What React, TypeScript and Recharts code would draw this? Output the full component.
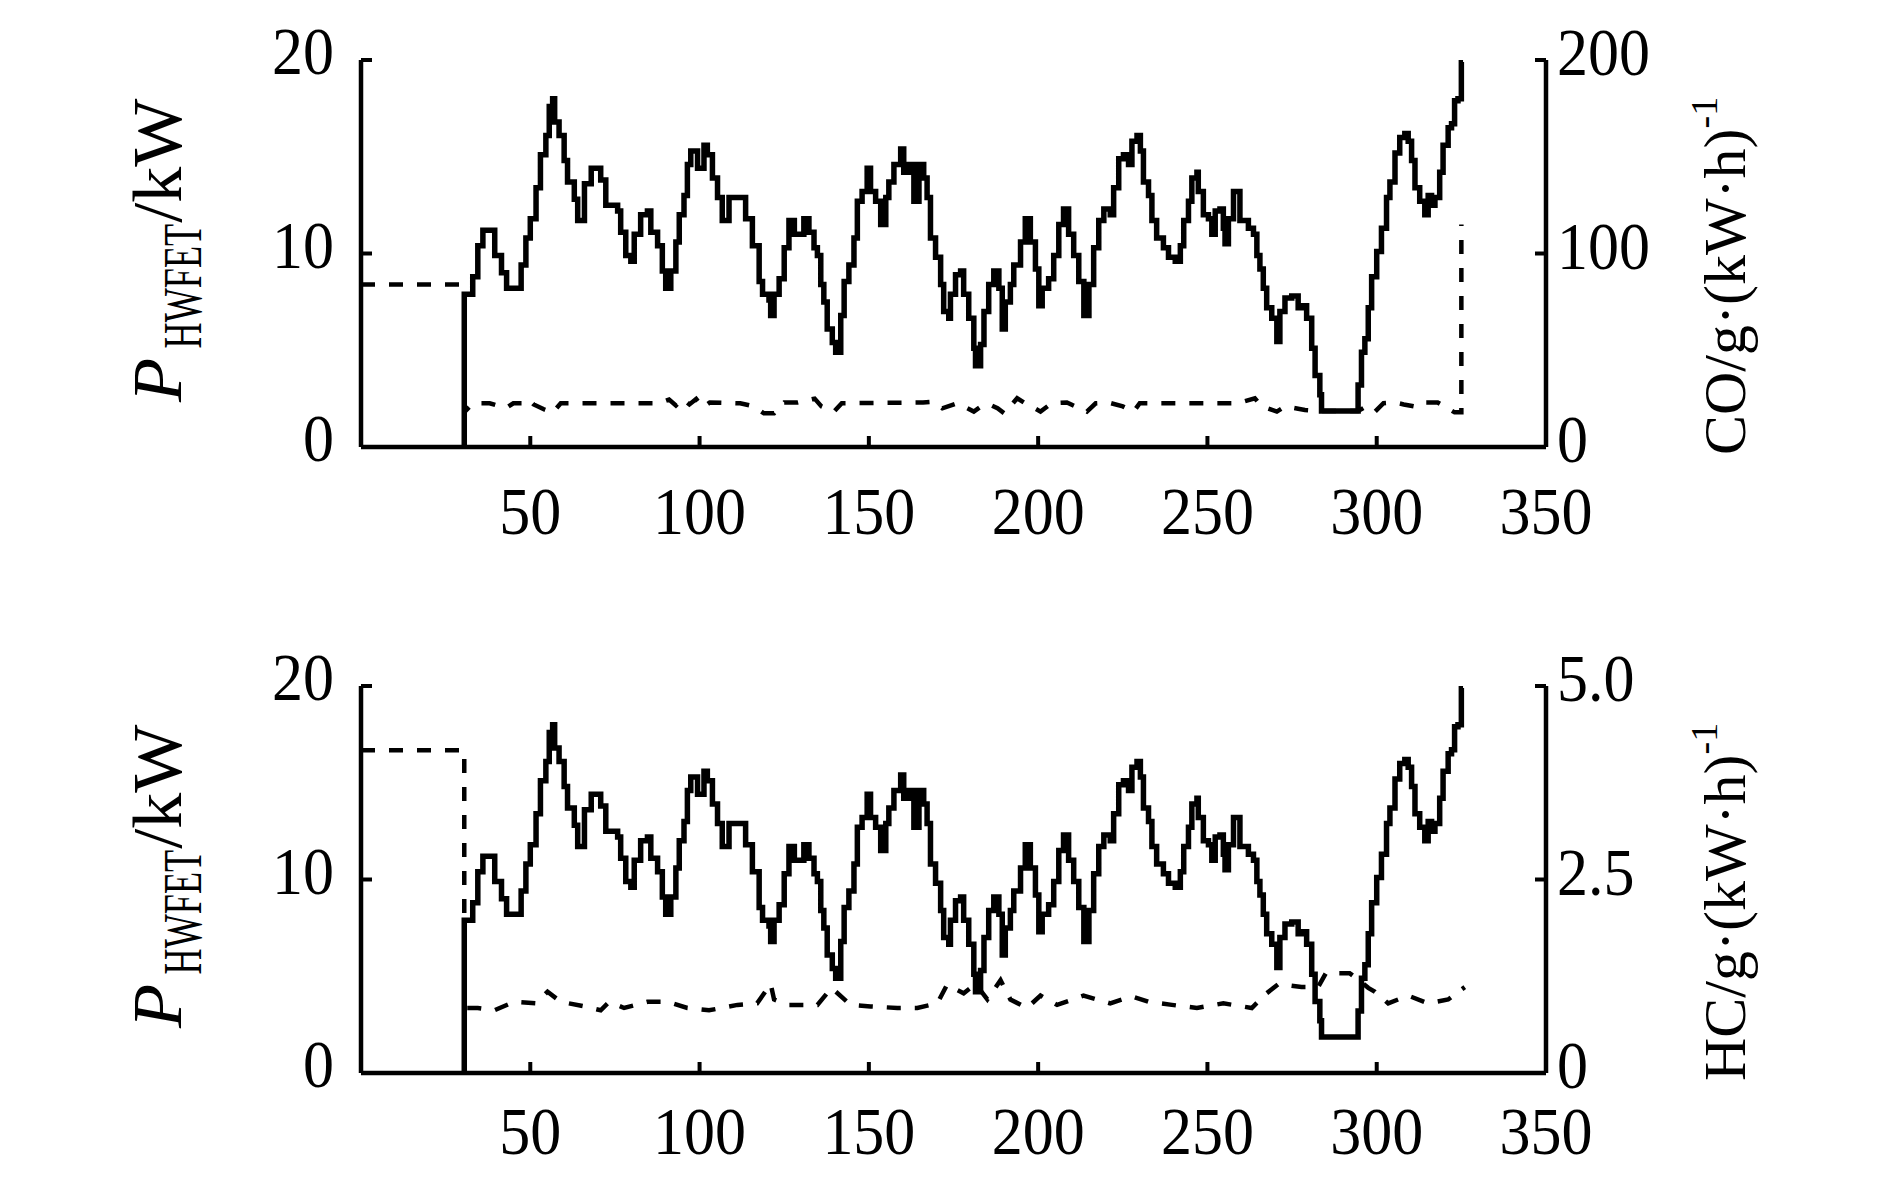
import { LineChart, Line, XAxis, YAxis } from 'recharts';

const FONT = '"Liberation Serif", "Times New Roman", serif';

// time axis, s
const xTicks = [50, 100, 150, 200, 250, 300, 350];
const powerTicks = [0, 10, 20];
const coTicks = [0, 100, 200];
const hcTicks = [0, 2.5, 5];
const hcTickLabels: Record<number, string> = { 0: '0', 2.5: '2.5', 5: '5.0' };

// HWFET power, kW (stair line)
const powerTime = [
  30.5, 30.5, 33, 34.5, 36, 39.5, 41.5, 43, 47.3, 48.7, 50, 51.7, 53, 54.6, 55.6, 56.6, 57.2, 58.5, 60, 61,
  63, 64, 66, 68, 70.8, 72.3, 75.8, 76.7, 78.2, 79.7, 80.7, 82.6, 84.6, 85.6, 87.6, 89, 90, 91.5, 93, 94,
  95.4, 96.4, 97.4, 99.4, 101.3, 102.3, 103.8, 105.3, 106.7, 108.7, 113.6, 115.6, 117.6, 118.6, 120.5, 121, 122, 123.5, 125, 126.4,
  128, 130.8, 132.3, 133.8, 134.8, 135.8, 136.7, 137.7, 139.2, 140.2, 141.7, 142.7, 144.1, 145.6, 146.6, 148, 149.5, 150.5, 152, 153.5,
  155, 155.9, 157.4, 159.4, 160.3, 161.8, 163.3, 164.8, 166.2, 167.2, 168.2, 169.7, 171.2, 172.1, 173.6, 174.1, 175.6, 177.1, 178, 179.5,
  181, 181.5, 183, 184, 185.4, 186.9, 188.4, 189.4, 190.3, 191.8, 192.8, 194.8, 196.2, 197.7, 199.2, 200.2, 201.2, 203.1, 204.6, 206.1,
  207.5, 209, 210.5, 212, 213.5, 215, 216.4, 217.9, 219.4, 221.3, 222.3, 223.8, 225.2, 226.7, 227.7, 229.2, 230.2, 231.1, 232.6, 233.6,
  235, 237, 238.5, 240.5, 242, 243, 244.4, 245.4, 246.9, 247.3, 248.8, 250.3, 251.3, 252.3, 253.7, 254.7, 255.2, 256.2, 257.7, 259.6,
  262.1, 263.6, 264.6, 265.5, 266.5, 267.5, 269, 270.5, 271.4, 272.9, 274.9, 276.8, 278.3, 279.3, 280.8, 281.8, 283.2, 283.7, 294.5, 295.5,
  296.5, 297.5, 298.5, 300, 301.4, 302.9, 303.9, 305.4, 306.8, 308.3, 309.3, 310.3, 311.3, 312.7, 314.2, 315.2, 316.2, 317.2, 318.6, 319.6,
  321.1, 322.1, 323, 324, 325, 325.5,
];
const powerKW = [
  0, 7.9, 8.8, 10.4, 11.2, 9.9, 9.0, 8.2, 9.4, 10.8, 11.8, 13.4, 15.1, 16.1, 17.6, 18.0, 16.8, 16.1, 14.8, 13.7,
  12.8, 11.7, 13.6, 14.4, 13.8, 12.5, 12.2, 11.1, 9.9, 9.6, 11.0, 12.0, 12.2, 11.1, 10.4, 9.1, 8.2, 9.1, 10.6, 12.0,
  13.0, 14.6, 15.3, 14.4, 15.6, 15.1, 13.9, 12.9, 11.7, 12.9, 11.8, 10.4, 8.55, 7.9, 7.6, 6.8, 7.9, 8.7, 10.3, 11.7,
  11.0, 11.8, 11.1, 10.3, 9.9, 8.4, 7.5, 6.1, 5.4, 4.9, 6.8, 8.55, 9.4, 10.8, 12.7, 13.2, 14.4, 13.2, 12.7, 11.5,
  12.9, 13.7, 14.6, 15.4, 14.2, 14.6, 12.7, 14.6, 13.9, 12.9, 10.8, 9.8, 8.4, 7.0, 6.65, 7.9, 8.9, 9.1, 7.9, 6.65,
  5.1, 4.2, 5.3, 7.0, 8.4, 9.1, 8.2, 6.1, 7.5, 8.4, 9.4, 10.6, 11.8, 10.6, 9.2, 7.3, 8.2, 8.7, 9.9, 11.5,
  12.3, 11.0, 9.9, 8.55, 6.8, 8.4, 10.3, 11.7, 12.3, 12.0, 13.4, 14.9, 15.1, 14.6, 15.8, 16.1, 15.3, 13.7, 13.0, 11.7,
  10.8, 10.3, 9.8, 9.6, 10.4, 11.7, 12.7, 13.9, 14.2, 13.2, 12.0, 11.8, 11.0, 12.2, 12.3, 11.3, 10.5, 11.8, 13.2, 11.7,
  11.3, 11.0, 9.9, 9.2, 8.2, 7.2, 6.65, 5.45, 7.0, 7.7, 7.8, 7.2, 7.3, 6.65, 5.1, 3.7, 2.7, 1.86, 3.2, 4.9,
  5.6, 7.2, 8.8, 10.1, 11.3, 12.9, 13.7, 15.2, 16.0, 16.2, 15.8, 14.8, 13.4, 12.7, 12.0, 13.0, 12.5, 12.9, 14.2, 15.6,
  16.5, 16.7, 17.9, 18.0, 19.9, 19.9,
];

// CO, g/(kW·h)
const coTime = [
  0, 30.5, 30.5, 33, 38, 41, 43, 45, 48, 49.5, 51, 54, 56.6, 59, 88, 91, 93, 95, 97, 99,
  101, 103, 112, 116, 119, 122, 125, 129, 134, 136, 139.7, 142, 166, 169, 171.7, 176, 178, 181, 184, 186,
  188, 190, 193.8, 196.2, 198, 200.7, 204, 208.5, 211, 214.4, 217, 220.8, 225, 228.2, 230, 259, 264, 266, 270.5, 273,
  276, 278.8, 283, 294.5, 297, 299.5, 302, 305.4, 308, 311.3, 313, 318, 320, 323, 325, 325,
];
const coValue = [
  84, 84, 18, 22.6, 22.6, 21, 20.3, 22.6, 22.6, 24.5, 22, 19.5, 17.8, 22.6, 22.6, 24.5, 21.5, 25, 22, 24.8,
  20.5, 23, 22.6, 21, 17.4, 17.4, 23, 23, 25, 21, 18.3, 22.6, 23, 23.4, 20, 22.6, 21, 18.3, 22, 21.7,
  20, 17.4, 25.2, 22.6, 21, 18.3, 22.6, 23, 21, 18.3, 22.6, 23, 21, 18.3, 22.6, 22.6, 25.2, 21, 18.3, 21,
  20, 19.1, 18.6, 18.6, 21, 18.3, 22.6, 23, 22, 20.9, 23, 23, 21, 17.9, 17.9, 115,
];

// HC, g/(kW·h)
const hcTime = [
  0, 30.5, 30.5, 34.5, 39.4, 45.3, 51.7, 55.1, 59, 66, 70.8, 73.3, 77.7, 84.6, 90.5, 96.4, 102.8, 111.2, 117, 121,
  122, 126, 134.8, 139, 144.6, 150.5, 158.4, 164.3, 170.2, 173.1, 178, 181.5, 185, 188.9, 191.8, 196.7, 200.7, 205.6, 213.4, 221.3,
  227.7, 232.6, 239.5, 246.9, 254.7, 263.1, 267.5, 271, 277.8, 282.7, 285, 292, 295, 297.5, 299.5, 303.4, 309.3, 315.2, 321.1, 326,
];
const hcValue = [
  4.17, 4.17, 0.84, 0.84, 0.81, 0.92, 0.9, 1.05, 0.92, 0.86, 0.81, 0.92, 0.84, 0.92, 0.92, 0.84, 0.81, 0.88, 0.9, 1.15,
  0.95, 0.88, 0.88, 1.1, 0.88, 0.86, 0.84, 0.84, 0.9, 1.14, 1.03, 1.15, 0.95, 1.2, 0.95, 0.84, 1.0, 0.88, 1.0, 0.9,
  0.99, 0.92, 0.88, 0.84, 0.9, 0.84, 1.03, 1.15, 1.11, 1.11, 1.29, 1.29, 1.19, 1.1, 1.05, 0.9, 1.0, 0.9, 0.95, 1.11,
];

const powerData = powerTime.map((t, i) => ({ t, v: powerKW[i] }));
const coData = coTime.map((t, i) => ({ t, v: coValue[i] }));
const hcData = hcTime.map((t, i) => ({ t, v: hcValue[i] }));

const W = 1890;
const H = 555;
const OFFSET = 626;

function XTick(props: any) {
  const { x, y, payload, base } = props;
  return (
    <g>
      {payload.value !== 350 && <line x1={x} y1={y} x2={x} y2={y - 11} stroke="#000" strokeWidth={4} />}
      <text transform={`translate(${x},${y + base}) scale(1,1.1)`} textAnchor="middle" fontFamily={FONT} fontSize={62} fill="#000">
        {payload.value}
      </text>
    </g>
  );
}

function LeftTick(props: any) {
  const { x, y, payload } = props;
  return (
    <g>
      {payload.value !== 0 && <line x1={x} y1={y} x2={x + 11} y2={y} stroke="#000" strokeWidth={4} />}
      <text transform={`translate(${x - 27},${y + 14}) scale(1,1.1)`} textAnchor="end" fontFamily={FONT} fontSize={62} fill="#000">
        {payload.value}
      </text>
    </g>
  );
}

function RightTick(props: any) {
  const { x, y, payload, fmt } = props;
  return (
    <g>
      {payload.value !== 0 && <line x1={x} y1={y} x2={x - 11} y2={y} stroke="#000" strokeWidth={4} />}
      <text transform={`translate(${x + 11},${y + 15}) scale(1,1.1)`} textAnchor="start" fontFamily={FONT} fontSize={62} fill="#000">
        {fmt ? fmt(payload.value) : payload.value}
      </text>
    </g>
  );
}

function Panel({ data, domain, ticks, fmt, base }: any) {
  return (
    <LineChart width={W} height={H} margin={{ top: 60, right: 264, bottom: 68, left: 281 }}>
      <XAxis
        dataKey="t"
        type="number"
        domain={[0, 350]}
        ticks={xTicks}
        interval={0}
        height={40}
        tickSize={0}
        tickMargin={0}
        tickLine={false}
        axisLine={{ stroke: '#000', strokeWidth: 4.5 }}
        tick={(p: any) => <XTick {...p} base={base} />}
        allowDataOverflow
      />
      <YAxis
        yAxisId="left"
        domain={[0, 20]}
        ticks={powerTicks}
        interval={0}
        width={80}
        tickSize={0}
        tickMargin={0}
        tickLine={false}
        axisLine={{ stroke: '#000', strokeWidth: 4.5 }}
        tick={(p: any) => <LeftTick {...p} />}
        allowDataOverflow
      />
      <YAxis
        yAxisId="right"
        orientation="right"
        domain={domain}
        ticks={ticks}
        interval={0}
        width={80}
        tickSize={0}
        tickMargin={0}
        tickLine={false}
        axisLine={{ stroke: '#000', strokeWidth: 4.5 }}
        tick={(p: any) => <RightTick {...p} fmt={fmt} />}
        allowDataOverflow
      />
      <Line
        yAxisId="right"
        data={data}
        dataKey="v"
        type="linear"
        stroke="#000"
        strokeWidth={4.5}
        strokeDasharray="14 14"
        dot={false}
        activeDot={false}
        isAnimationActive={false}
      />
      <Line
        yAxisId="left"
        data={powerData}
        dataKey="v"
        type="stepAfter"
        stroke="#000"
        strokeWidth={5.5}
        dot={false}
        activeDot={false}
        isAnimationActive={false}
      />
    </LineChart>
  );
}

function Titles() {
  const right = (oy: number, name: string) => (
    <g transform={`translate(1745, ${455 + oy}) rotate(-90)`}>
      <text x={0} y={0} fontFamily={FONT} fontSize={60} fill="#000">
        {name}/g·(kW·h)
        <tspan dy={-28} fontSize={38}>-1</tspan>
      </text>
    </g>
  );
  const left = (oy: number) => (
    <g transform={`translate(181, ${402 + oy}) rotate(-90) scale(1.03,1)`}>
      <text x={0} y={0} fontFamily={FONT} fontSize={70} fontStyle="italic" fill="#000">P</text>
      <text x={52} y={20} fontFamily={FONT} fontSize={54} fill="#000" textLength={121} lengthAdjust="spacingAndGlyphs">
        HWFET
      </text>
      <text x={174} y={0} fontFamily={FONT} fontSize={70} fill="#000">/kW</text>
    </g>
  );
  return (
    <svg width={W} height={1181} style={{ position: 'absolute', left: 0, top: 0, pointerEvents: 'none' }}>
      {left(0)}
      {left(OFFSET)}
      {right(0, 'CO')}
      {right(OFFSET, 'HC')}
    </svg>
  );
}

export default function App() {
  return (
    <div style={{ position: 'absolute', left: 0, top: 0, width: W, height: 1181, background: '#fff', overflow: 'hidden' }}>
      <div style={{ position: 'absolute', left: 0, top: 0 }}>
        <Panel data={coData} domain={[0, 200]} ticks={coTicks} base={87} />
      </div>
      <div style={{ position: 'absolute', left: 0, top: OFFSET }}>
        <Panel data={hcData} domain={[0, 5]} ticks={hcTicks} fmt={(v: number) => hcTickLabels[v]} base={81} />
      </div>
      <Titles />
    </div>
  );
}
